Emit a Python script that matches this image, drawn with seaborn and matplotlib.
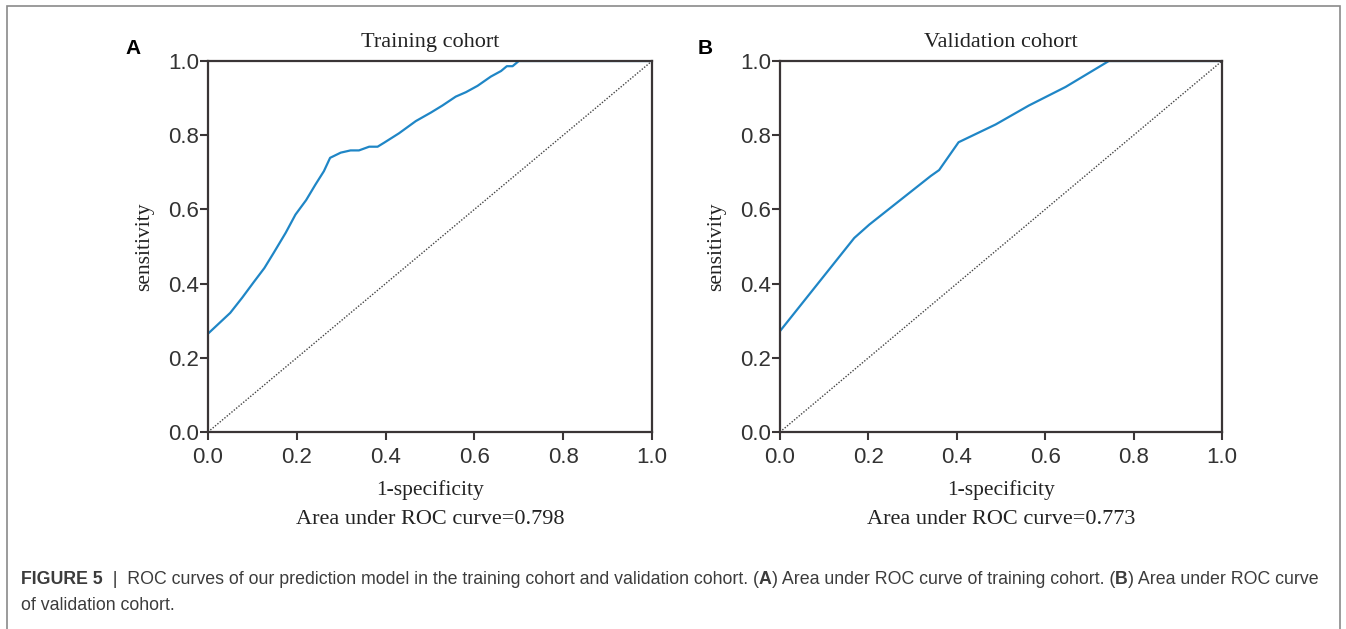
import numpy as np
import pandas as pd
import seaborn as sns
import matplotlib.pyplot as plt
from matplotlib.patches import Rectangle

# ROC points (1-specificity, sensitivity)
train_fpr = [0.0, 0.05, 0.077, 0.103, 0.127, 0.148, 0.175, 0.197, 0.221, 0.242,
             0.261, 0.275, 0.299, 0.321, 0.340, 0.363, 0.382, 0.397, 0.430, 0.468,
             0.502, 0.528, 0.558, 0.581, 0.607, 0.637, 0.660, 0.673, 0.686, 0.700, 1.0]
train_tpr = [0.265, 0.321, 0.362, 0.404, 0.442, 0.483, 0.537, 0.586, 0.625, 0.667,
             0.703, 0.739, 0.753, 0.759, 0.759, 0.769, 0.769, 0.780, 0.805, 0.838,
             0.861, 0.880, 0.904, 0.916, 0.933, 0.958, 0.973, 0.986, 0.986, 1.0, 1.0]

valid_fpr = [0.0, 0.168, 0.202, 0.255, 0.341, 0.360, 0.404, 0.488, 0.563, 0.646, 0.744, 1.0]
valid_tpr = [0.272, 0.523, 0.559, 0.609, 0.690, 0.706, 0.781, 0.829, 0.880, 0.930, 1.0, 1.0]

chance = [0.0, 1.0]
ticks = [0.0, 0.2, 0.4, 0.6, 0.8, 1.0]

panels = [
    ("A", "Training cohort", train_fpr, train_tpr, "Area under ROC curve=0.798"),
    ("B", "Validation cohort", valid_fpr, valid_tpr, "Area under ROC curve=0.773"),
]

sns.set_style("ticks")
plt.rcParams['font.family'] = ['Liberation Sans', 'DejaVu Sans']

serif = 'Liberation Serif'
line_color = '#1f86c6'
frame_color = '#3a3536'

fig = plt.figure(figsize=(13.46, 6.29), dpi=100)
W, H = 1346, 629

# outer border of the figure box
fig.patches.append(Rectangle((7 / W, -0.05), (1340 - 7) / W, (629 - 6) / H + 0.05,
                             transform=fig.transFigure, fill=False,
                             edgecolor='#8a8a8a', linewidth=1.2))

axes_px = [(208, 652), (780, 1222)]
for (letter, title, fpr, tpr, auc_text), (x0, x1) in zip(panels, axes_px):
    ax = fig.add_axes([x0 / W, 1 - 432 / H, (x1 - x0) / W, (432 - 61) / H])
    df = pd.DataFrame({'fpr': fpr, 'tpr': tpr})
    sns.lineplot(data=df, x='fpr', y='tpr', ax=ax, sort=False, estimator=None,
                 color=line_color, linewidth=1.6)
    sns.lineplot(x=chance, y=chance, ax=ax, color='#444444', linewidth=1.0,
                 linestyle=(0, (1, 1.2)))
    ax.set_xlim(0, 1)
    ax.set_ylim(0, 1)
    ax.set_xticks(ticks)
    ax.set_yticks(ticks)
    ax.set_xticklabels([f"{t:.1f}" for t in ticks])
    ax.set_yticklabels([f"{t:.1f}" for t in ticks])
    for s in ax.spines.values():
        s.set_color(frame_color)
        s.set_linewidth(1.6)
        s.set_visible(True)
    ax.tick_params(direction='out', length=5.5, width=1.5, color=frame_color,
                   labelsize=16, labelcolor='#333333', pad=1)
    ax.tick_params(axis='x', pad=5)
    ax.set_xlabel("1-specificity", fontsize=15.5, family=serif, color='#222222', labelpad=9)
    ax.set_ylabel("sensitivity", fontsize=15.5, family=serif, color='#222222', labelpad=10)
    ax.set_title(title, fontsize=16, family=serif, color='#222222', pad=10)
    xc = (x0 + x1) / 2 / W
    fig.text(xc, 1 - 520 / H, auc_text, ha='center', va='center', fontsize=16,
             family=serif, color='#222222')
    fig.text((x0 - 75) / W, 1 - 48 / H, letter, ha='center', va='center',
             fontsize=15, fontweight='bold', color='black')

# caption with mixed bold / normal runs
renderer = fig.canvas.get_renderer()
cap_size = 12.8
cap_color = '#3c3c3c'


def text_width(s, bold):
    w = 'bold' if bold else 'normal'
    t1 = fig.text(0, 0, "|" + s + "|", fontsize=cap_size, fontweight=w)
    t2 = fig.text(0, 0, "||", fontsize=cap_size, fontweight=w)
    wd = t1.get_window_extent(renderer).width - t2.get_window_extent(renderer).width
    t1.remove()
    t2.remove()
    return wd


def rich_line(x_px, y_px, runs):
    x = x_px
    for s, bold in runs:
        fig.text(x / W, 1 - y_px / H, s, fontsize=cap_size, va='center', ha='left',
                 fontweight='bold' if bold else 'normal', color=cap_color)
        x += text_width(s, bold)


rich_line(21, 579, [("FIGURE 5", True),
                    ("  |  ROC curves of our prediction model in the training cohort and validation cohort. (", False),
                    ("A", True),
                    (") Area under ROC curve of training cohort. (", False),
                    ("B", True),
                    (") Area under ROC curve", False)])
rich_line(21, 605, [("of validation cohort.", False)])

fig.savefig("out.png", dpi=100)
